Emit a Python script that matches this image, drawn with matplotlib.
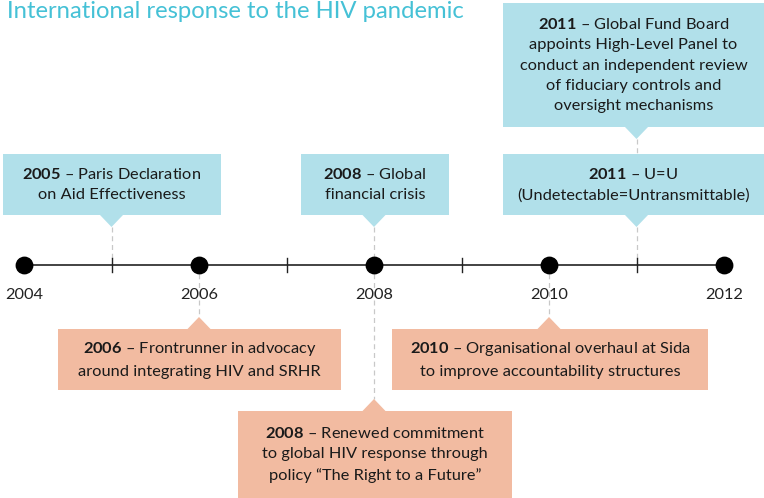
import matplotlib.pyplot as plt
from matplotlib.patches import Rectangle, Polygon

plt.rcParams['font.family'] = ['Lato', 'DejaVu Sans']
plt.rcParams['mathtext.fontset'] = 'custom'
plt.rcParams['mathtext.rm'] = 'Lato'
plt.rcParams['mathtext.bf'] = 'Lato:bold'

title = "International response to the HIV pandemic"
major_years = [2004, 2006, 2008, 2010, 2012]
minor_years = [2005, 2007, 2009, 2011]

event_years = [2005, 2008, 2011, 2011, 2006, 2010, 2008]
event_text = [
    "Paris Declaration\non Aid Effectiveness",
    "Global\nfinancial crisis",
    "Global Fund Board\nappoints High-Level Panel to\nconduct an independent review\nof fiduciary controls and\noversight mechanisms",
    "U=U\n(Undetectable=Untransmittable)",
    "Frontrunner in advocacy\naround integrating HIV and SRHR",
    "Organisational overhaul at Sida\nto improve accountability structures",
    "Renewed commitment\nto global HIV response through\npolicy \u201cThe Right to a Future\u201d",
]
event_above = [True, True, True, True, False, False, False]

# box layout in pixels: left, right, top, bottom
box_px = [
    (3, 221, 154, 215),
    (301, 449, 154, 215),
    (503, 770, 3, 127),
    (503, 770, 154, 215),
    (58, 341, 329, 390),
    (392, 708, 329, 390),
    (238, 512, 411, 505),
]

BLUE = '#b1e0ea'
SALMON = '#f2bba1'
TITLE_C = '#45c1d6'
LINE_Y = 265
PX_PER_YEAR = 87.5


def px(x):
    return 2004 + (x - 24) / PX_PER_YEAR


fig = plt.figure(figsize=(7.64, 4.98), dpi=100)
ax = fig.add_axes([0, 0, 1, 1])
ax.set_xlim(px(0), px(764))
ax.set_ylim(498, 0)
ax.axis('off')

fig.text(7 / 764, 1 - 11 / 498, title, color=TITLE_C, fontsize=17.2,
         va='center', ha='left')

# dashed connectors
for yr, above, (l, r, t, b) in zip(event_years, event_above, box_px):
    if above:
        ax.plot([yr, yr], [b + 12, LINE_Y if t > 100 else 154], color='#c8c8c8',
                lw=0.9, ls=(0, (4, 3)), zorder=1)
    else:
        ax.plot([yr, yr], [LINE_Y, t - 12], color='#c8c8c8',
                lw=0.9, ls=(0, (4, 3)), zorder=1)

# timeline
ax.plot([major_years[0], major_years[-1]], [LINE_Y, LINE_Y], color='#222222', lw=1.2, zorder=2)
for yr in minor_years:
    ax.plot([yr, yr], [LINE_Y - 7, LINE_Y + 7], color='#222222', lw=1.0, zorder=2)
ax.scatter(major_years, [LINE_Y] * len(major_years), s=140, color='black', zorder=3)
for yr in major_years:
    ax.text(yr, 295, str(yr), ha='center', va='center', fontsize=11.8, color='#222222')

# event boxes
for yr, txt, above, (l, r, t, b) in zip(event_years, event_text, event_above, box_px):
    col = BLUE if above else SALMON
    ax.add_patch(Rectangle((px(l), t), px(r) - px(l), b - t, facecolor=col,
                           edgecolor='none', zorder=4))
    hw = 11.5 / PX_PER_YEAR
    if above:
        tri = [(yr - hw, b), (yr + hw, b), (yr, b + 12)]
    else:
        tri = [(yr - hw, t), (yr + hw, t), (yr, t - 12)]
    ax.add_patch(Polygon(tri, closed=True, facecolor=col, edgecolor='none', zorder=4))
    cx = (px(l) + px(min(r, 764))) / 2
    cy = (t + min(b, 498)) / 2
    label = "$\\mathbf{%d}$ \u2013 " % yr + txt
    ax.text(cx, cy, label, ha='center', va='center', multialignment='center',
            fontsize=11.8, color='#1a1a1a', linespacing=1.55, zorder=5)

fig.savefig('out.png', dpi=100)
